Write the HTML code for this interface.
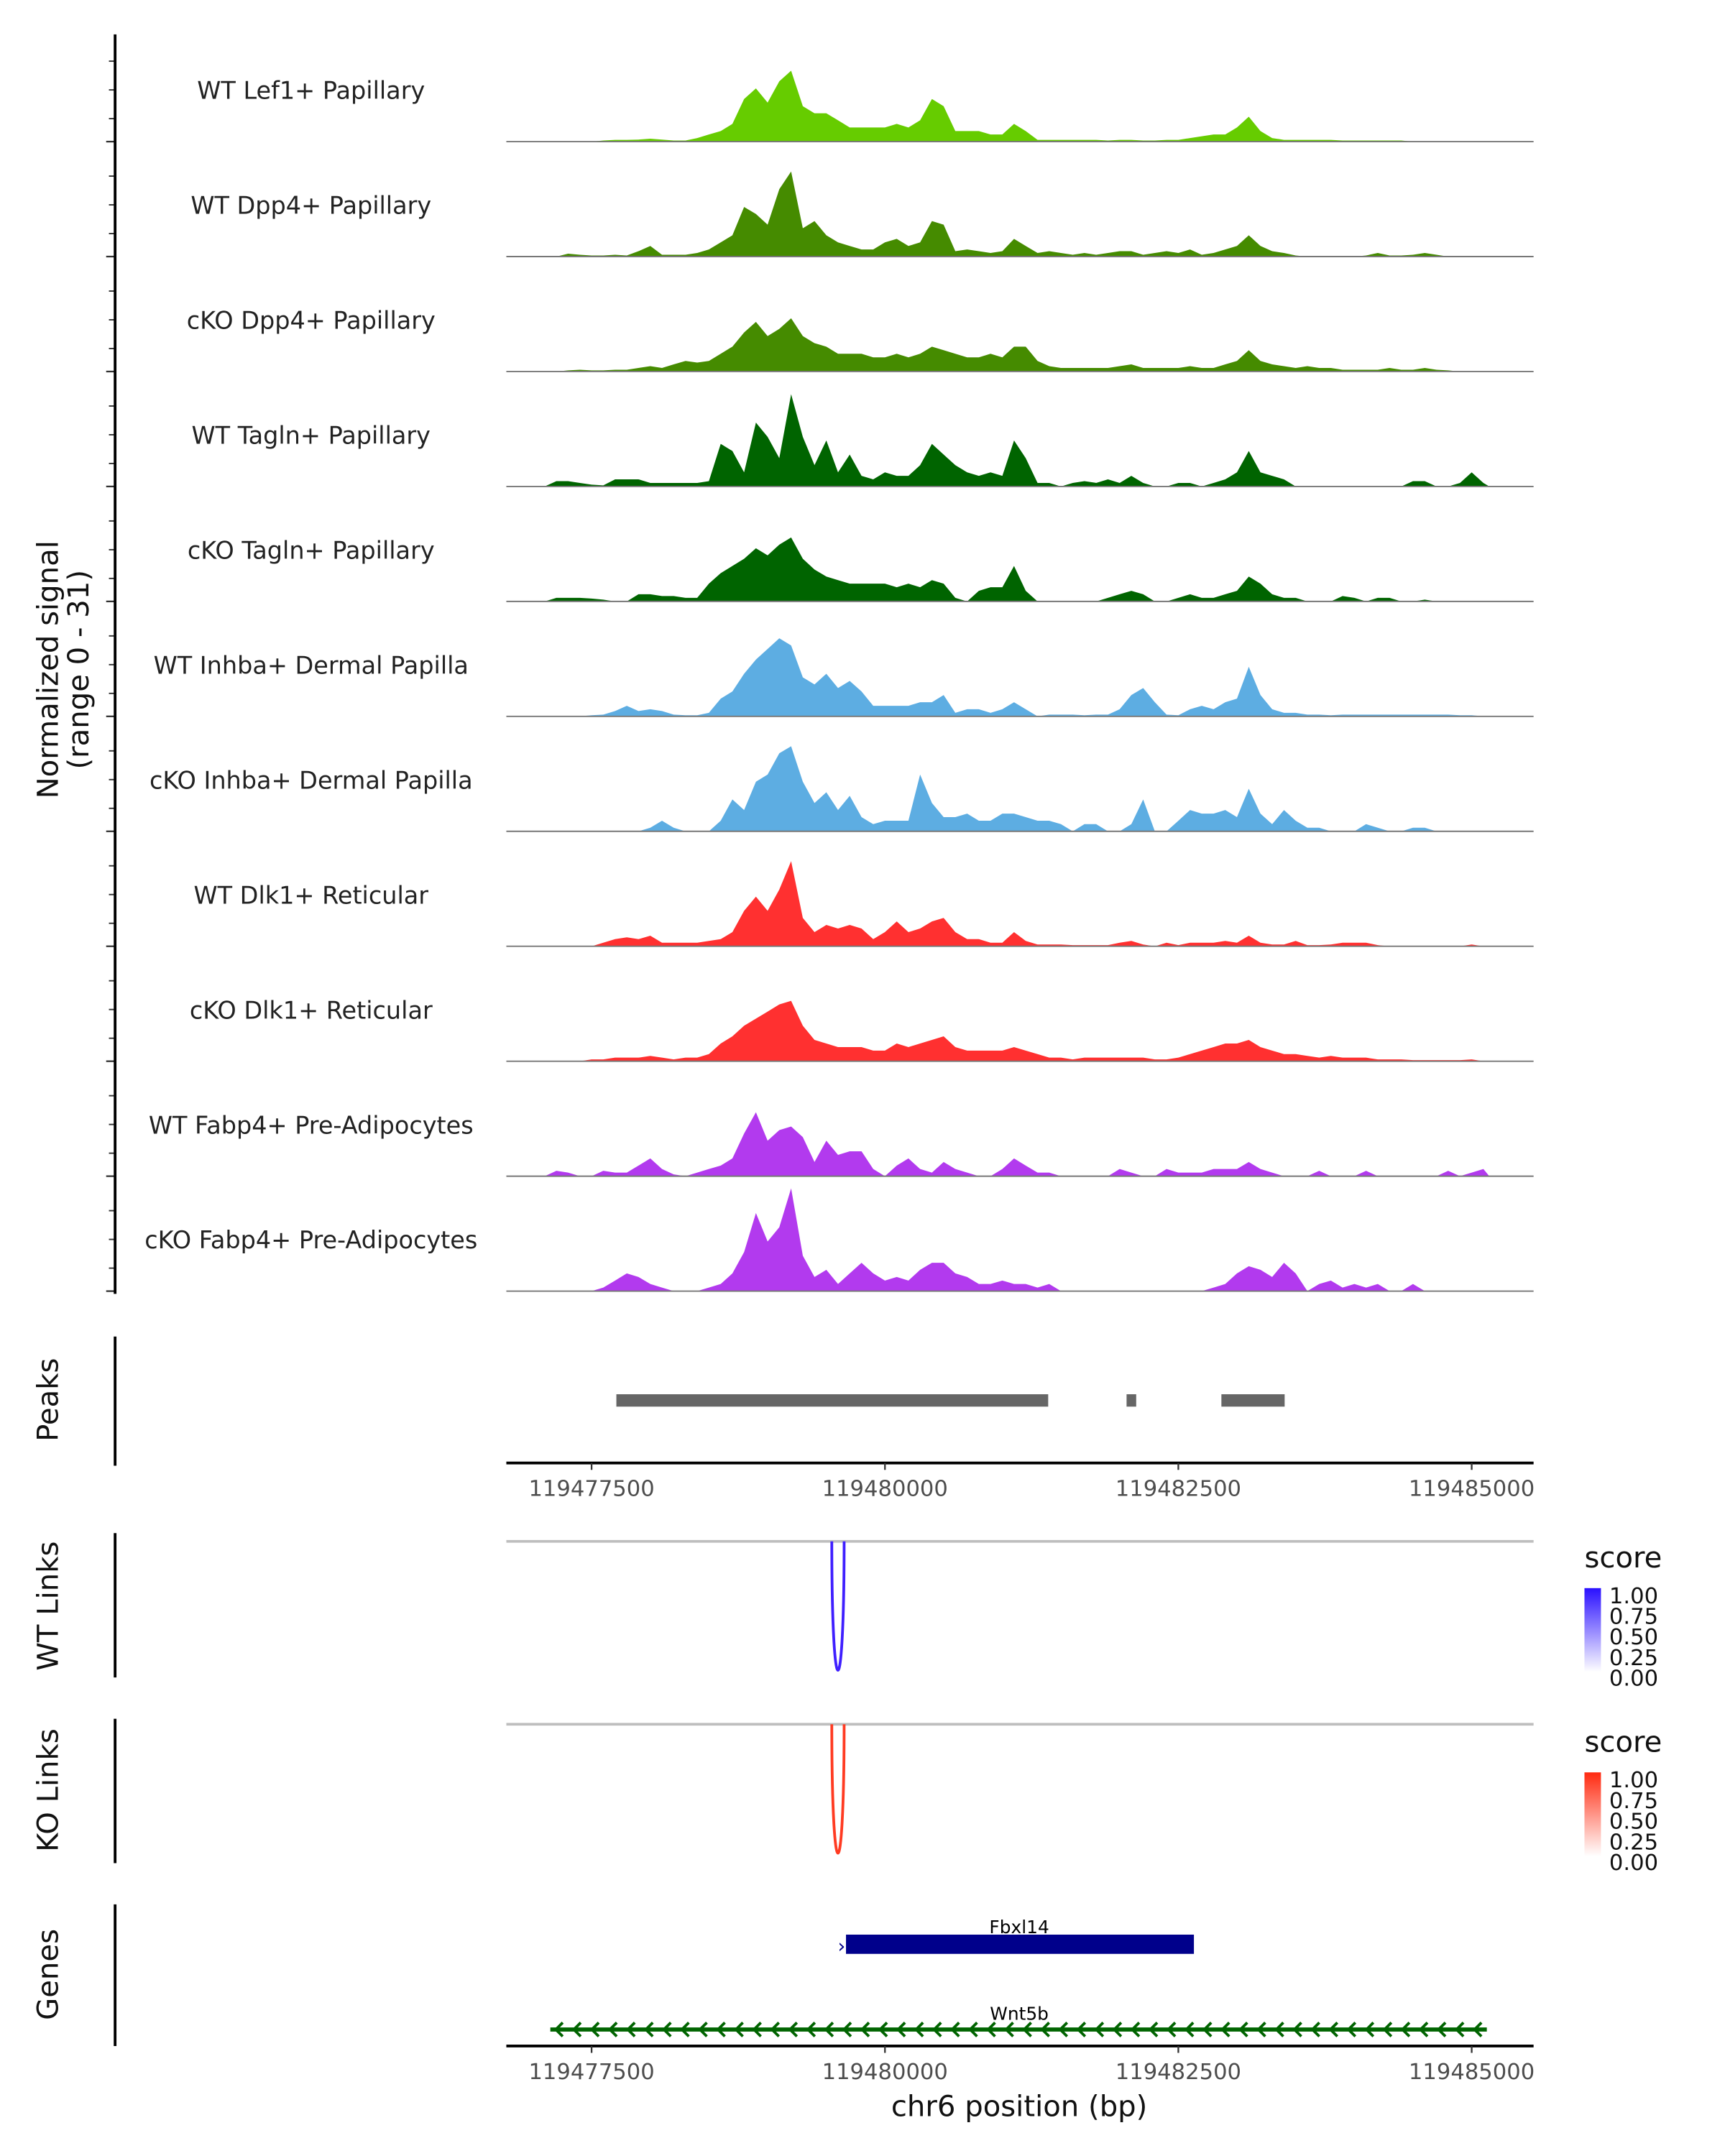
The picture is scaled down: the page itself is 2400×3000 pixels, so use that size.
<!DOCTYPE html>
<html><head><meta charset="utf-8"><style>
html,body{margin:0;padding:0;background:#fff}
svg{display:block}
text{font-family:"DejaVu Sans","Liberation Sans",sans-serif}
</style></head><body>
<svg id="fig" width="2400" height="3000" viewBox="0 0 1254 1568" xmlns="http://www.w3.org/2000/svg">
<g id="tracks"></g>
<g id="axes"></g>
</svg>
<script>
const binStart = 119477100;
const binSize = 100;
const trackNames = ["WT Lef1+ Papillary","WT Dpp4+ Papillary","cKO Dpp4+ Papillary","WT Tagln+ Papillary","cKO Tagln+ Papillary","WT Inhba+ Dermal Papilla","cKO Inhba+ Dermal Papilla","WT Dlk1+ Reticular","cKO Dlk1+ Reticular","WT Fabp4+ Pre-Adipocytes","cKO Fabp4+ Pre-Adipocytes"];
const trackColors = ["#66cc00","#458b00","#458b00","#006400","#006400","#5dade2","#5dade2","#ff3030","#ff3030","#b23aee","#b23aee"];
const sigLef1 = [0,0,0,0,0,0.3,0.5,0.5,0.6,0.8,0.6,0.3,0.3,1,2,3,5,12,15,11,17,20,10,8,8,6,4,4,4,4,5,4,6,12,10,3,3,3,2,2,5,3,0.5,0.5,0.5,0.5,0.5,0.5,0.3,0.5,0.5,0.3,0.3,0.5,0.5,1,1.5,2,2,4,7,3,1,0.5,0.5,0.5,0.5,0.5,0.3,0.3,0.3,0.3,0.3,0.3,0,0,0,0,0,0,0];
const sigDpp4WT = [0,0,0.8,0.5,0.3,0.3,0.5,0.3,1.5,3,0.5,0.5,0.5,1,2,4,6,14,12,9,19,24,8,10,6,4,3,2,2,4,5,3,4,10,9,1.5,2,1.5,1,1.5,5,3,1,1.5,1,0.5,1,0.5,1,1.5,1.5,0.5,1,1.5,1,2,0.5,1,2,3,6,3,1.5,1,0.3,0,0,0,0,0,0.3,1,0.3,0.3,0.5,1,0.5,0,0,0,0];
const sigDpp4KO = [0,0,0.3,0.5,0.3,0.3,0.5,0.5,1,1.5,1,2,3,2.5,3,5,7,11,14,10,12,15,10,8,7,5,5,5,4,4,5,4,5,7,6,5,4,4,5,4,7,7,3,1.5,1,1,1,1,1,1.5,2,1,1,1,1,1.5,1,1,2,3,6,3,2,1.5,1,1.5,1,1,0.5,0.5,0.5,0.5,1,0.5,0.5,1,0.5,0.3,0,0,0];
const sigTaglnWT = [0,1.5,1.5,1,0.5,0.3,2,2,2,1,1,1,1,1,1.5,12,10,4,18,14,8,26,14,6,13,4,9,3,2,4,3,3,6,12,9,6,4,3,4,3,13,8,1,1,0,1,1.5,1,2,1,3,1,0,0,1,1,0,1,2,4,10,4,3,2,0,0,0,0,0,0,0,0,0,0,1.5,1.5,0,0,1,4,1];
const sigTaglnKO = [0,1,1,1,0.8,0.5,0,0,2,2,1.5,1.5,1,1,5,8,10,12,15,13,16,18,12,9,7,6,5,5,5,5,4,5,4,6,5,1,0,3,4,4,10,3,0,0,0,0,0,0,1,2,3,2,0,0,1,2,1,1,2,3,7,5,2,1,1,0,0,0,1.5,1,0,1,1,0,0,0.5,0,0,0,0,0];
const sigInhbaWT = [0,0,0,0,0.3,0.5,1.5,3,1.5,2,1.5,0.5,0.3,0.3,1,5,7,12,16,19,22,20,11,9,12,8,10,7,3,3,3,3,4,4,6,1,2,2,1,2,4,2,0,0.5,0.5,0.5,0.3,0.5,0.5,2,6,8,4,0.5,0.3,2,3,2,4,5,14,6,2,1,1,0.5,0.5,0.3,0.5,0.5,0.5,0.5,0.5,0.5,0.5,0.5,0.5,0.5,0.3,0.3,0];
const sigInhbaKO = [0,0,0,0,0,0,0,0,0,1,3,1,0,0,0,3,9,6,14,16,22,24,14,8,11,6,10,4,2,3,3,3,16,8,4,4,5,3,3,5,5,4,3,3,2,0,2,2,0,0,2,9,0,0,3,6,5,5,6,4,12,5,2,6,3,1,1,0,0,0,2,1,0,0,1,1,0,0,0,0,0];
const sigDlk1WT = [0,0,0,0,0,1,2,2.5,2,3,1,1,1,1,1.5,2,4,10,14,10,16,24,8,4,6,5,6,5,2,4,7,4,5,7,8,4,2,2,1,1,4,1.5,0.5,0.5,0.5,0.3,0.3,0.3,0.3,1,1.5,0.5,0,1,0.3,1,1,1,1.5,1,3,1,0.5,0.5,1.5,0.3,0.3,0.5,1,1,1,0.3,0,0,0,0,0,0,0,0.5,0];
const sigDlk1KO = [0,0,0,0,0.5,0.5,1,1,1,1.5,1,0.5,1,1,2,5,7,10,12,14,16,17,10,6,5,4,4,4,3,3,5,4,5,6,7,4,3,3,3,3,4,3,2,1,1,0.5,1,1,1,1,1,1,0.5,0.5,1,2,3,4,5,5,6,4,3,2,2,1.5,1,1.5,1,1,1,0.5,0.5,0.5,0.3,0.3,0.3,0.3,0.3,0.5,0];
const sigFabp4WT = [0,1.5,1,0,0,1.5,1,1,3,5,2,0.5,0,1,2,3,5,12,18,10,13,14,11,4,10,6,7,7,2,0,3,5,2,1,4,2,1,0,0,2,5,3,1,1,0,0,0,0,0,2,1,0,0,2,1,1,1,2,2,2,4,2,1,0,0,0,1.5,0,0,0,1.5,0,0,0,0,0,0,1.5,0,1,2];
const sigFabp4KO = [0,0,0,0,0,1,3,5,4,2,1,0,0,0,1,2,5,11,22,14,18,29,10,4,6,2,5,8,5,3,4,3,6,8,8,5,4,2,2,3,2,2,1,2,0,0,0,0,0,0,0,0,0,0,0,0,0,1,2,5,7,6,4,8,5,0,2,3,1,2,1,2,0,0,2,0,0,0,0,0,0];
const trackSignals = [sigLef1,sigDpp4WT,sigDpp4KO,sigTaglnWT,sigTaglnKO,sigInhbaWT,sigInhbaKO,sigDlk1WT,sigDlk1KO,sigFabp4WT,sigFabp4KO];
const peakStarts = [119477711,119482059,119482867];
const peakEnds = [119481391,119482141,119483406];
const xTicks = [119477500,119480000,119482500,119485000];
const legendTicks = ["1.00","0.75","0.50","0.25","0.00"];
const linkStart = [119479547];
const linkEnd = [119479652];

const NS="http://www.w3.org/2000/svg";
const X0=368, X1=1115, yMax=31, trackH=83.6, firstBase=103;
function xs(bp){return 430+(bp-119477500)*(640/7500);}
function mk(tag,attrs,parent){const e=document.createElementNS(NS,tag);for(const k in attrs)e.setAttribute(k,attrs[k]);parent.appendChild(e);return e;}
const tracks=document.getElementById('tracks');
const axes=document.getElementById('axes');

trackSignals.forEach((sig,t)=>{
  const base=firstBase+t*trackH;
  const ys=v=>base-v/yMax*80;
  const g=mk('g',{},tracks);
  
  
  let d='M'+xs(binStart-50).toFixed(1)+','+base;
  sig.forEach((v,i)=>{d+=' L'+xs(binStart+i*binSize).toFixed(1)+','+ys(v).toFixed(1);});
  d+=' L'+xs(binStart+(sig.length-1)*binSize+50).toFixed(1)+','+base+' Z';
  const p=mk('path',{d:d,fill:trackColors[t]},g);
  
  
  const l=mk('line',{x1:X0,x2:X1,y1:base,y2:base,stroke:'#777','stroke-width':1},g);
  
  
  const tx=mk('text',{x:226,y:base-31,'text-anchor':'middle','font-size':17.5,fill:'#222'},g);
  tx.textContent=trackNames[t];
  
  
  [0.2,0.45,0.7].forEach(f=>{
    const tk=mk('line',{x1:79,x2:83,y1:base-f*trackH,y2:base-f*trackH,stroke:'#333','stroke-width':1},axes);
    
    
  });
  const tb=mk('line',{x1:77,x2:83,y1:base,y2:base,stroke:'#333','stroke-width':1.2},axes);
  
  
});

function vline(y1,y2,name){const l=mk('line',{x1:83.5,x2:83.5,y1:y1,y2:y2,stroke:'#000','stroke-width':2},axes);}
vline(25,941,'signal-y-axis');vline(972,1066,'peaks-axis');vline(1115,1220,'wt-links-axis');vline(1250,1355,'ko-links-axis');vline(1385,1488,'genes-axis');

function rotLabel(x,y,txt,name,size){const t=mk('text',{x:x,y:y,transform:'rotate(-90 '+x+' '+y+')','text-anchor':'middle','font-size':size||21,fill:'#111'},axes);t.textContent=txt;}
rotLabel(42,487,'Normalized signal','y-axis-title');
rotLabel(64,487,'(range 0 - 31)','y-axis-range');
rotLabel(42,1018,'Peaks','peaks-label');
rotLabel(42,1168,'WT Links','wt-links-label');
rotLabel(42,1302,'KO Links','ko-links-label');
rotLabel(42,1436,'Genes','genes-label');

peakStarts.forEach((s,i)=>{const r=mk('rect',{x:xs(s),y:1014,width:xs(peakEnds[i])-xs(s),height:9,fill:'#666'},tracks);});

function xAxis(y,name){
  const l=mk('line',{x1:X0,x2:X1,y1:y,y2:y,stroke:'#000','stroke-width':2},axes);
  
  xTicks.forEach(v=>{
    const t=mk('line',{x1:xs(v),x2:xs(v),y1:y,y2:y+5,stroke:'#333','stroke-width':1.2},axes);
    
    const tx=mk('text',{x:xs(v),y:y+24,'text-anchor':'middle','font-size':16,fill:'#4d4d4d'},axes);
    tx.textContent=v;
  });
}
xAxis(1064,'peaks-x-axis');xAxis(1488,'genes-x-axis');
const xt=mk('text',{x:741,y:1539,'text-anchor':'middle','font-size':21,fill:'#111'},axes);
xt.textContent='chr6 position (bp)';

function links(base,color,name){
  const l=mk('line',{x1:X0,x2:X1,y1:base,y2:base,stroke:'#bebebe','stroke-width':2},tracks);
  
  linkStart.forEach((s,i)=>{
    const a=xs(s),b=xs(linkEnd[i]);
    const p=mk('path',{d:'M'+a+','+base+' C'+a+','+(base+125)+' '+b+','+(base+125)+' '+b+','+base,fill:'none',stroke:color,'stroke-width':2},tracks);
    
  });
}
links(1121,'#3f1fff','wt-links');links(1254,'#ff3b22','ko-links');

function legend(top,color,id,name){
  const t=mk('text',{x:1152,y:top,'font-size':21,fill:'#111'},axes);t.textContent='score';
  
  const defs=mk('defs',{},axes);const gr=mk('linearGradient',{id:id,x1:0,y1:0,x2:0,y2:1},defs);
  mk('stop',{offset:0,'stop-color':color},gr);mk('stop',{offset:1,'stop-color':'#fff'},gr);
  const r=mk('rect',{x:1152,y:top+15,width:12,height:61,fill:'url(#'+id+')'},axes);
  
  legendTicks.forEach((v,i)=>{const tx=mk('text',{x:1170,y:top+26+i*15,'font-size':16,fill:'#111'},axes);tx.textContent=v;
    });
}
legend(1140,'#2a10ff','gwt','wt-legend');legend(1274,'#ff2a10','gko','ko-legend');

const fb=mk('rect',{x:615,y:1407,width:253,height:14,fill:'#00008b'},tracks);

const fx=mk('text',{x:609,y:1420,'font-size':14,fill:'#00008b'},tracks);fx.textContent='›';

const fl=mk('text',{x:741,y:1406,'text-anchor':'middle','font-size':13,fill:'#000'},tracks);fl.textContent='Fbxl14';

const wl=mk('line',{x1:400,x2:1081,y1:1476,y2:1476,stroke:'#006400','stroke-width':3},tracks);

let ad='';for(let x=404;x<1078;x+=13.1){ad+='M'+(x+5)+',1471 L'+x+',1476 L'+(x+5)+',1481 ';}
const ar=mk('path',{d:ad,fill:'none',stroke:'#006400','stroke-width':2},tracks);

const wt=mk('text',{x:741,y:1469,'text-anchor':'middle','font-size':13,fill:'#000'},tracks);wt.textContent='Wnt5b';

</script>
</body></html>
